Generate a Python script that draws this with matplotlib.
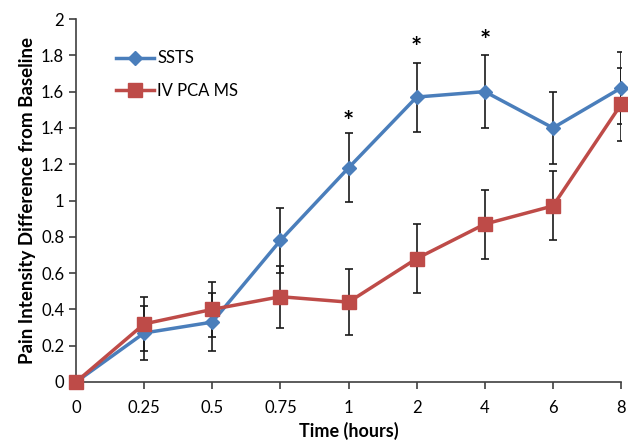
import matplotlib
matplotlib.use("Agg")
import matplotlib.pyplot as plt
import numpy as np

plt.rcParams['font.family'] = ['Lato', 'DejaVu Sans']

categories = ["0", "0.25", "0.5", "0.75", "1", "2", "4", "6", "8"]
ssts = [0, 0.27, 0.33, 0.78, 1.18, 1.57, 1.60, 1.40, 1.62]
ssts_err = [0, 0.15, 0.16, 0.18, 0.19, 0.19, 0.20, 0.20, 0.20]
ivpca = [0, 0.32, 0.40, 0.47, 0.44, 0.68, 0.87, 0.97, 1.53]
ivpca_err = [0, 0.15, 0.15, 0.17, 0.18, 0.19, 0.19, 0.19, 0.20]
star_idx = [4, 5, 6]
star_y = [1.43, 1.84, 1.88]

fig = plt.figure(figsize=(6.28, 4.43), dpi=100)
ax = fig.add_axes([0.121, 0.1377, 0.868, 0.8194])
x = np.arange(len(categories))

ax.errorbar(x, ssts, yerr=ssts_err, fmt='none', ecolor='#1a1a1a', elinewidth=1.2,
            capsize=3, capthick=1.2, zorder=2)
ax.errorbar(x, ivpca, yerr=ivpca_err, fmt='none', ecolor='#1a1a1a', elinewidth=1.2,
            capsize=3, capthick=1.2, zorder=2)
ax.plot(x, ssts, color='#4A7EBB', lw=2.5, marker='D', markersize=7,
        label='SSTS', zorder=3, clip_on=False)
ax.plot(x, ivpca, color='#BE4B48', lw=2.5, marker='s', markersize=9.5,
        label='IV PCA MS', zorder=3, clip_on=False)

for i, yv in zip(star_idx, star_y):
    ax.text(i, yv, '*', ha='center', va='center', fontsize=19, fontweight='bold')

ax.set_xlim(0, 8)
ax.set_ylim(0, 2)
ax.set_xticks(x)
ax.set_xticklabels(categories, fontsize=12)
ax.set_yticks(np.arange(0, 2.01, 0.2))
ax.set_yticklabels(['0', '0.2', '0.4', '0.6', '0.8', '1', '1.2', '1.4', '1.6', '1.8', '2'], fontsize=12)
ax.spines['top'].set_visible(False)
ax.spines['right'].set_visible(False)
for s in ['left', 'bottom']:
    ax.spines[s].set_color('#404040')
    ax.spines[s].set_linewidth(1.2)
ax.tick_params(axis='both', direction='out', length=5, color='#404040', width=1.2)
ax.tick_params(axis='x', pad=8)

ax.set_xlabel('Time (hours)', fontsize=13, fontweight='bold', labelpad=4)
ax.set_ylabel('Pain Intensity Difference from Baseline', fontsize=13.5, fontweight='bold', labelpad=4)

leg = ax.legend(loc='upper left', bbox_to_anchor=(0.045, 0.955), frameon=False,
                fontsize=12, handlelength=2.3, handletextpad=0.2, labelspacing=1.0)

fig.savefig('out.png', dpi=100)
